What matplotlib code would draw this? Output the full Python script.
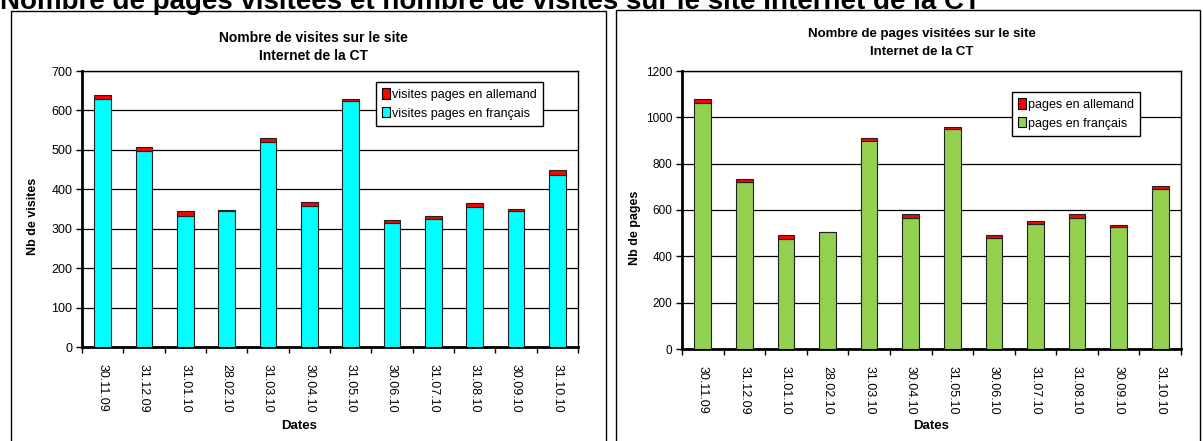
import matplotlib
matplotlib.use("Agg")
import matplotlib.pyplot as plt
from matplotlib.patches import Rectangle, Patch
import numpy as np

plt.rcParams['font.family'] = ['Liberation Sans', 'DejaVu Sans']

dates = ["30.11.09", "31.12.09", "31.01.10", "28.02.10", "31.03.10", "30.04.10",
         "31.05.10", "30.06.10", "31.07.10", "31.08.10", "30.09.10", "31.10.10"]

# visites (graphique de gauche)
visites_fr = [629, 497, 331, 345, 520, 358, 623, 315, 325, 355, 345, 436]
visites_de = [9, 9, 13, 2, 9, 9, 5, 6, 8, 9, 5, 12]

# pages visitees (graphique de droite)
pages_fr = [1063, 720, 476, 504, 900, 567, 950, 480, 541, 567, 525, 690]
pages_de = [16, 14, 18, 2, 12, 15, 8, 10, 11, 15, 10, 13]

W, H = 1203, 441
fig = plt.figure(figsize=(W / 100, H / 100), dpi=100)


def fx(x):
    return x / W


def fy(y):
    return 1 - y / H


def axes_px(x0, y0, x1, y1):
    return fig.add_axes([fx(x0), fy(y1), (x1 - x0) / W, (y1 - y0) / H])


# cadres des deux graphiques
fig.patches.append(Rectangle((fx(11), fy(460)), (606 - 11) / W, (460 - 11) / H,
                             transform=fig.transFigure, fill=False, ec='black', lw=1))
fig.patches.append(Rectangle((fx(616), fy(460)), (1200 - 616) / W, (460 - 10) / H,
                             transform=fig.transFigure, fill=False, ec='black', lw=1))

# titre general, coupe en haut comme sur l'original
fig.text(0.0, fy(9), "Nombre de pages visitées et nombre de visites sur le site Internet de la CT",
         fontsize=20, fontweight='bold', ha='left', va='baseline')


def stacked(ax, fr, de, col_fr, ymax, step, lab_fr, lab_de, ysize, leg_xy, leg_size):
    x = np.arange(len(dates))
    ax.bar(x, fr, width=0.4, color=col_fr, edgecolor='#222222', lw=0.8, zorder=3)
    ax.bar(x, de, bottom=fr, width=0.4, color='#ff0000', edgecolor='#222222', lw=0.8, zorder=3)
    ax.set_xlim(-0.5, len(dates) - 0.5)
    ax.set_ylim(0, ymax)
    ax.set_yticks(np.arange(0, ymax + 1, step))
    ax.yaxis.grid(True, color='black', lw=0.9)
    ax.set_axisbelow(True)
    ax.set_xticks(x)
    ax.set_xticklabels(dates, rotation=270, fontsize=9)
    ax.set_xticks(np.arange(-0.5, len(dates), 1.0), minor=True)
    ax.tick_params(axis='x', which='major', length=0, pad=12)
    ax.tick_params(axis='x', which='minor', length=4, width=1, direction='out')
    ax.tick_params(axis='y', length=4, width=1, labelsize=ysize, pad=3)
    for s in ['top', 'right']:
        ax.spines[s].set_linewidth(1)
    for s in ['left', 'bottom']:
        ax.spines[s].set_linewidth(2)
    handles = [Patch(facecolor='#ff0000', edgecolor='black', lw=0.8),
               Patch(facecolor=col_fr, edgecolor='black', lw=0.8)]
    ax.legend(handles, [lab_de, lab_fr], loc='upper left',
              bbox_to_anchor=(fx(leg_xy[0]), fy(leg_xy[1])), bbox_transform=fig.transFigure,
              borderaxespad=0, fancybox=False, framealpha=1, edgecolor='black',
              fontsize=leg_size, handlelength=0.6, handleheight=0.9, handletextpad=0.15,
              borderpad=0.5, labelspacing=0.5)


ax1 = axes_px(82, 71, 578, 347)
stacked(ax1, visites_fr, visites_de, '#00ffff', 700, 100,
        "visites pages en français", "visites pages en allemand", 9, (376, 82), 9)
fig.text(fx(313), fy(38), "Nombre de visites sur le site", fontsize=10, fontweight='bold',
         ha='center', va='center')
fig.text(fx(313), fy(56), "Internet de la CT", fontsize=10, fontweight='bold',
         ha='center', va='center')
fig.text(fx(33), fy(216), "Nb de visites", fontsize=9, fontweight='bold', rotation=90,
         ha='center', va='center')
fig.text(fx(299), fy(426), "Dates", fontsize=9.5, fontweight='bold', ha='center', va='center')

ax2 = axes_px(682, 71, 1181, 349)
stacked(ax2, pages_fr, pages_de, '#92d050', 1200, 200,
        "pages en français", "pages en allemand", 8.5, (1012, 92), 9)
fig.text(fx(922), fy(34), "Nombre de pages visitées sur le site", fontsize=9.5, fontweight='bold',
         ha='center', va='center')
fig.text(fx(922), fy(52), "Internet de la CT", fontsize=9.5, fontweight='bold',
         ha='center', va='center')
fig.text(fx(635), fy(228), "Nb de pages", fontsize=9, fontweight='bold', rotation=90,
         ha='center', va='center')
fig.text(fx(931), fy(426), "Dates", fontsize=9.5, fontweight='bold', ha='center', va='center')

fig.savefig("out.png", dpi=100)
